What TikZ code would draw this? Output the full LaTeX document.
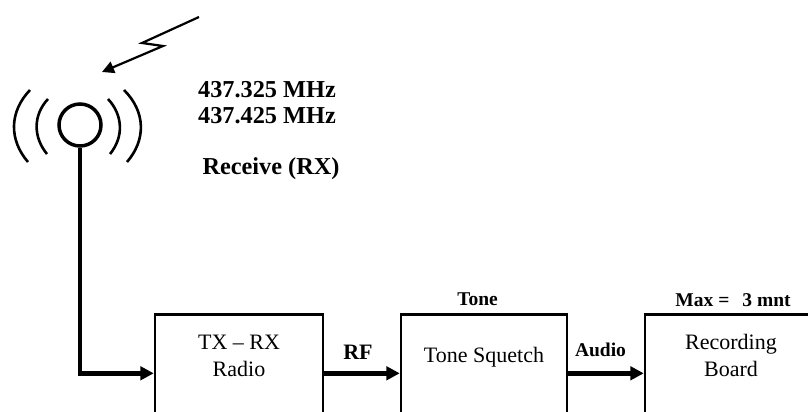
\documentclass[tikz,border=0pt]{standalone}
\usepackage{fontspec}
\setmainfont{Liberation Serif}
\usetikzlibrary{arrows.meta,positioning}
\newcommand{\blocktext}[2]{\raisebox{#1}[0pt][0pt]{\begin{tabular}[b]{@{}c@{}}#2\end{tabular}}}

\begin{document}
\begin{tikzpicture}[
    x=1pt, y=-1pt,
    node distance=75.5pt,
    block/.style={draw, line width=2.5pt, minimum height=118pt, inner sep=0pt, font=\fontsize{22}{27.4}\selectfont},
    tag/.style={font=\fontsize{19.5}{24}\bfseries\selectfont, inner sep=0pt},
    freq/.style={font=\fontsize{24.3}{26.5}\bfseries\selectfont, align=center, inner sep=0pt},
    wave/.style={line width=2.6pt},
    arrow/.style={-{Triangle[length=13.5pt, width=13.5pt]}, line width=4.8pt},
    bolt/.style={-{Triangle[length=12pt, width=12pt]}, line width=2.2pt}
]
\useasboundingbox (0,0) rectangle (808,412);
\clip (0,0) rectangle (808,412);

% receive path
\node[block, minimum width=168pt] (radio) at (239,373.3) {\blocktext{-3.4pt}{TX -- RX\\Radio}};
\node[block, minimum width=166pt, right=of radio] (tone) {\blocktext{10.6pt}{Tone Squetch}};
\node[block, minimum width=172pt, right=of tone] (record) {\blocktext{-3.4pt}{Recording\\Board}};

\node[tag, above=7pt of tone, xshift=-6.5pt] (tonetag) {Tone};
\node[tag, above=6pt of record, xshift=2pt] (maxtag) {Max\hspace{5pt}=\hspace{13pt}3 mnt};

% antenna
\node[draw, circle, line width=3.5pt, minimum size=42pt, inner sep=0pt] (ant) at (80,125) {};
\draw[wave] (48,99) .. controls (33,115) and (33,137) .. (47,154);
\draw[wave] (30,90) .. controls (9,112) and (9,140) .. (28,162);
\draw[wave] (108,99) .. controls (123,115) and (124,137) .. (110,154);
\draw[wave] (124,90) .. controls (146,112) and (146,140) .. (127,162);

\coordinate (boltstart) at (199,17);
\coordinate (boltend) at (102,72);
\draw[bolt] (boltstart) -- (142,43) -- (163,46) -- (boltend);

\node[freq] (freqs) at (267,102.5) {437.325 MHz\\437.425 MHz};
\node[freq] (mode) at (271,169) {Receive (RX)};

% connectors
\draw[arrow] (ant.south) -- (ant.south |- radio.west) -- (radio.west);
\draw[arrow] (radio) -- node[tag, above=11.6pt, xshift=-4pt, font=\fontsize{22}{24}\bfseries\selectfont] {RF} (tone);
\draw[arrow] (tone) -- node[tag, above=14.3pt, xshift=-5.5pt] {Audio} (record);
\end{tikzpicture}
\end{document}
